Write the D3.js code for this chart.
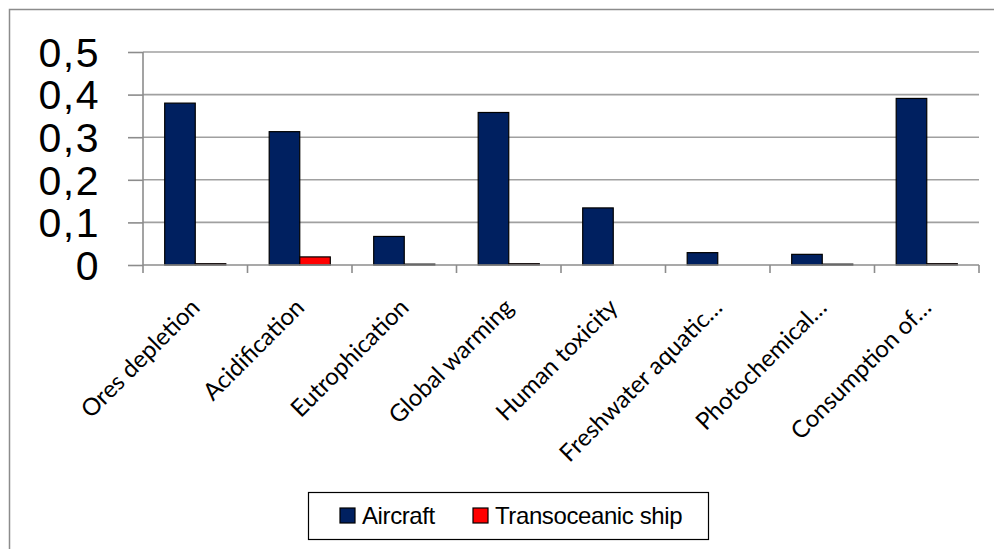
<!DOCTYPE html>
<html>
<head>
<meta charset="utf-8">
<script src="https://cdn.jsdelivr.net/npm/d3@7"></script>
<style>
  html, body { margin: 0; padding: 0; background: #fff; }
  svg { display: block; }
</style>
</head>
<body>
<svg id="chart" width="994" height="549"></svg>
<script>
// Impact categories (x axis)
const categories = [
  "Ores depletion", "Acidification", "Eutrophication", "Global warming",
  "Human toxicity", "Freshwater aquatic\u2026", "Photochemical\u2026", "Consumption of\u2026"
];
// Series
const seriesNames = ["Aircraft", "Transoceanic ship"];
const aircraft = [0.380, 0.313, 0.067, 0.358, 0.134, 0.029, 0.025, 0.391];
const ship     = [0.003, 0.019, 0.002, 0.003, 0.000, 0.000, 0.002, 0.003];
const seriesColors = ["#002060", "#FF0000"];
// Y axis ticks
const yTicks = [0, 0.1, 0.2, 0.3, 0.4, 0.5];
const yTickLabels = ["0", "0,1", "0,2", "0,3", "0,4", "0,5"];

const svg = d3.select("#chart");

// Outer chart frame
svg.append("path")
  .attr("d", "M9.5,560 L9.5,9.5 L1000,9.5")
  .attr("fill", "none")
  .attr("stroke", "#8c8c8c")
  .attr("stroke-width", 1.5);

const plot = { left: 143, right: 979, top: 52, bottom: 265 };

const x = d3.scaleBand().domain(categories).range([plot.left, plot.right]).padding(0);
const xInner = d3.scaleBand().domain(seriesNames).range([0, x.bandwidth()])
  .paddingInner(0).paddingOuter(0.71);
const y = d3.scaleLinear().domain([0, 0.5]).range([plot.bottom, plot.top]);

// Horizontal gridlines
svg.append("g")
  .selectAll("line")
  .data(yTicks.slice(1))
  .join("line")
  .attr("x1", plot.left).attr("x2", plot.right)
  .attr("y1", d => y(d)).attr("y2", d => y(d))
  .attr("stroke", "#a0a0a0")
  .attr("stroke-width", 1.6);

// Y axis
const yAxis = d3.axisLeft(y)
  .tickValues(yTicks)
  .tickSize(15)
  .tickFormat((d, i) => yTickLabels[i]);
const gy = svg.append("g").attr("transform", `translate(${plot.left},0)`).call(yAxis);
gy.select(".domain").attr("stroke", "#8c8c8c").attr("stroke-width", 1.6)
  .attr("d", `M0,${plot.top}V${plot.bottom}`);
gy.selectAll(".tick line").attr("stroke", "#8c8c8c").attr("stroke-width", 1.6);
gy.selectAll(".tick text")
  .attr("x", -43)
  .attr("dy", "0.35em")
  .attr("fill", "#000")
  .style("font-family", "'Liberation Sans', Arial, sans-serif")
  .style("font-size", "41px")
  .style("letter-spacing", "1.5px");

// Bars
const series = [aircraft, ship];
const groups = svg.append("g")
  .selectAll("g")
  .data(series)
  .join("g")
  .attr("fill", (d, i) => seriesColors[i]);
groups.selectAll("rect")
  .data((vals, si) => vals.map((v, ci) => ({ v, c: categories[ci], s: seriesNames[si] })))
  .join("rect")
  .attr("x", d => x(d.c) + xInner(d.s))
  .attr("width", xInner.bandwidth())
  .attr("y", d => y(d.v))
  .attr("height", d => y(0) - y(d.v))
  .attr("stroke", "#000")
  .attr("stroke-width", 1.2);
groups.selectAll("rect").filter(d => d.v <= 0).remove();

// X axis
const xAxis = d3.axisBottom(x).tickSize(0).tickFormat(d => d);
const gx = svg.append("g").attr("transform", `translate(0,${plot.bottom})`).call(xAxis);
gx.select(".domain").attr("stroke", "#8c8c8c").attr("stroke-width", 1.6)
  .attr("d", `M${plot.left},0H${plot.right}`);
// Category boundary ticks
gx.selectAll("line.bound")
  .data(d3.range(categories.length + 1))
  .join("line")
  .attr("class", "bound")
  .attr("x1", i => plot.left + i * x.step()).attr("x2", i => plot.left + i * x.step())
  .attr("y1", 0).attr("y2", 8)
  .attr("stroke", "#8c8c8c").attr("stroke-width", 1.6);
gx.selectAll(".tick text")
  .attr("text-anchor", "end")
  .attr("fill", "#000")
  .attr("y", 0).attr("dy", 0)
  .attr("transform", `translate(6,44) rotate(-45)`)
  .style("font-family", "Lato, 'Open Sans', sans-serif")
  .style("font-size", "24px");

// Legend
const legend = svg.append("g");
legend.append("rect")
  .attr("x", 308.5).attr("y", 492.5)
  .attr("width", 400).attr("height", 47)
  .attr("fill", "#fff").attr("stroke", "#000").attr("stroke-width", 1.2);
const legendItems = [
  { name: seriesNames[0], color: seriesColors[0], x: 340 },
  { name: seriesNames[1], color: seriesColors[1], x: 473 }
];
const li = legend.selectAll("g.item").data(legendItems).join("g").attr("class", "item");
li.append("rect")
  .attr("x", d => d.x).attr("y", 508)
  .attr("width", 15).attr("height", 15)
  .attr("fill", d => d.color).attr("stroke", "#000").attr("stroke-width", 1.2);
li.append("text")
  .attr("x", d => d.x + 22).attr("y", 524)
  .text(d => d.name)
  .attr("fill", "#000")
  .style("font-family", "'Liberation Sans', Arial, sans-serif")
  .style("font-size", "24px")
  .style("letter-spacing", "-0.4px");
</script>
</body>
</html>
